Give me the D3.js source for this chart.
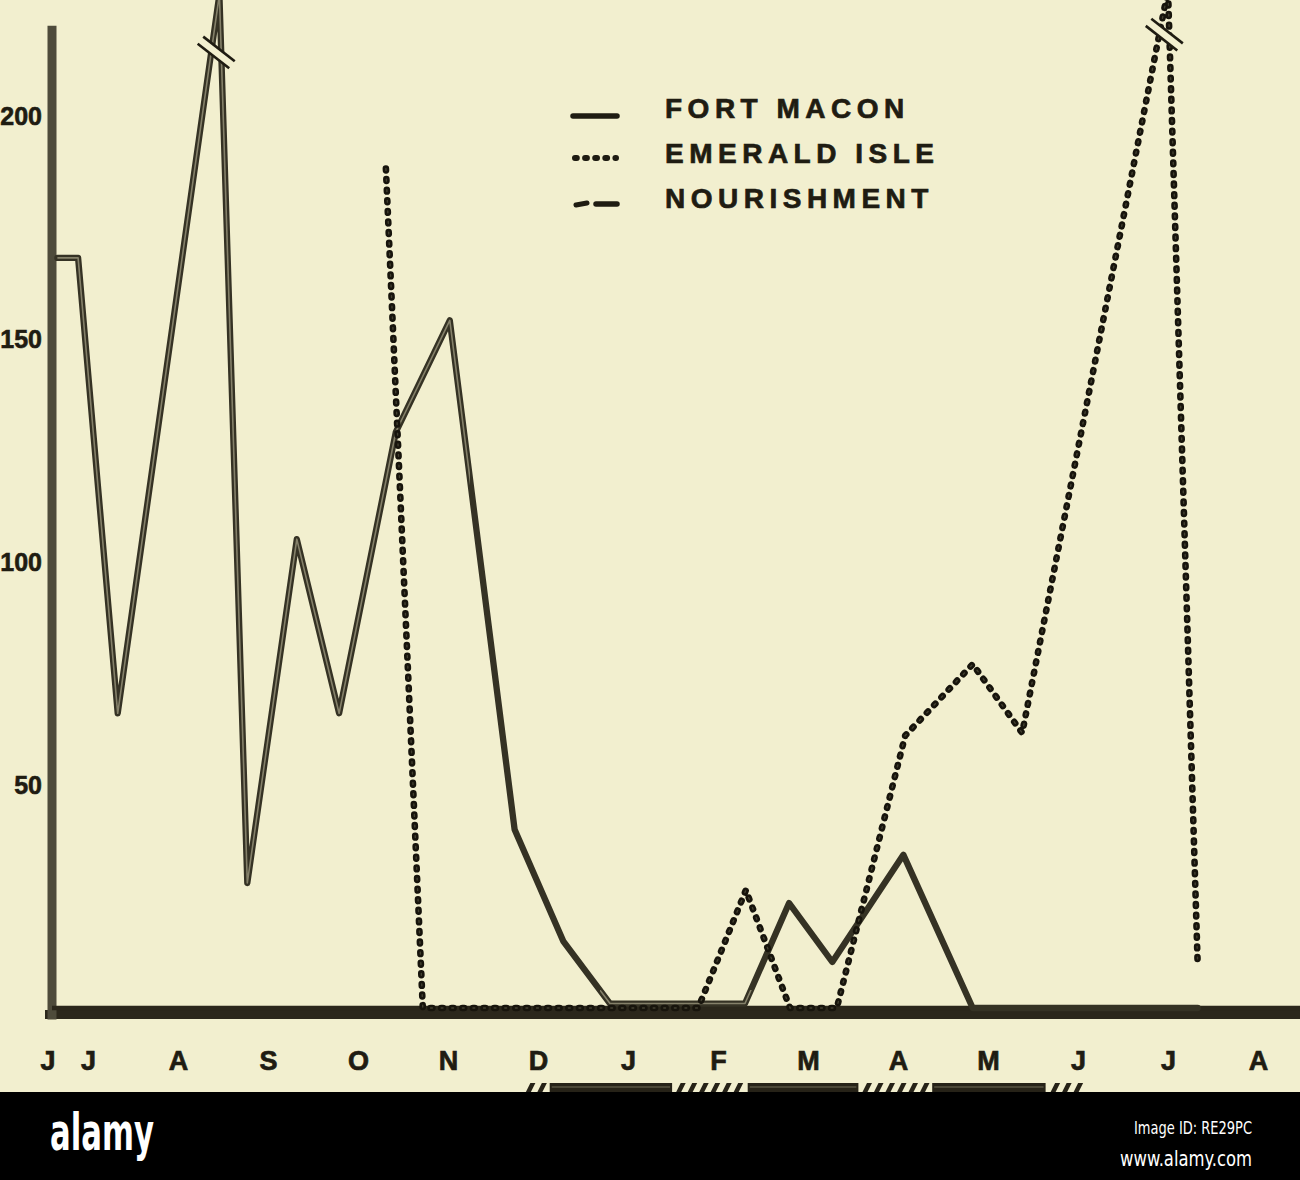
<!DOCTYPE html>
<html><head><meta charset="utf-8">
<script src="https://cdn.jsdelivr.net/npm/d3@7"></script>
<style>
html,body{margin:0;padding:0;background:#f1eecf;}
svg{display:block;}
</style></head><body>
<svg id="chart" width="1300" height="1180"></svg>
<script>
// ---------- DATA ----------
const monthLabels = ["J","J","A","S","O","N","D","J","F","M","A","M","J","J","A"];
const monthTicks  = [0.55,1,2,3,4,5,6,7,8,9,10,11,12,13,14];   // month index (July = 1)
const yTicks = [50,100,150,200];

const fortMaconMonth = [0.66,0.89,1.33,2.46,2.77,3.32,3.79,4.42,5.02,5.74,6.28,6.80,8.30,8.79,9.27,10.06,10.83,11.5,12.5,13.33];
const fortMaconValue = [168,168,66,227,28,105,66,129,154,40,15,1,1,23.5,10.3,34.3,0,0,0,0];

const emeraldMonth = [4.31,4.72,5.5,6.5,7.5,7.78,8.31,8.80,9.32,10.08,10.83,11.38,13.0,13.33];
const emeraldValue = [188,0,0,0,0,0,26.4,0,0,61,77,61.6,228,9.6];

const nourishMonth = [0.6,4.72,8.0,11.0,13.33,14.5];
const nourishValue = [0,0,0,0,0,0];

const periodStart = [5.86,6.13,7.53,8.33,9.60,10.38,11.69];
const periodEnd   = [6.13,7.49,8.29,9.56,10.33,11.64,12.08];
const periodType  = ["hatch","solid","hatch","solid","hatch","solid","hatch"];

const legendLabels = ["FORT MACON","EMERALD ISLE","NOURISHMENT"];

// ---------- SETUP ----------
const svg = d3.select("#chart");
const ink = "#1f1c12";
const bg = "#f2efcf";
const font = "'Liberation Sans', Arial, Helvetica, sans-serif";

svg.append("rect").attr("width",1300).attr("height",1180).attr("fill",bg);

const x = d3.scaleLinear().domain([1,14]).range([88,1258]);
const y = d3.scaleLinear().domain([0,200]).range([1008,115]);

const fm = fortMaconMonth.map((m,i)=>({m, v:fortMaconValue[i]}));
const ei = emeraldMonth.map((m,i)=>({m, v:emeraldValue[i]}));
const nr = nourishMonth.map((m,i)=>({m, v:nourishValue[i]}));

const line = d3.line().x(d=>x(d.m)).y(d=>y(d.v));

const defs = svg.append("defs");
const cp = defs.append("clipPath").attr("id","coreClip");
cp.append("rect").attr("x",0).attr("y",0).attr("width",470).attr("height",1180);
cp.append("rect").attr("x",600).attr("y",990).attr("width",160).attr("height",30);

// ---------- AXES ----------
svg.append("line").attr("x1",45).attr("x2",1300).attr("y1",1014.5).attr("y2",1014.5)
  .attr("stroke","#2b271b").attr("stroke-width",9);
svg.append("line").attr("x1",52).attr("x2",52).attr("y1",y(-2.6)).attr("y2",y(220))
  .attr("stroke","#4e4b3b").attr("stroke-width",9);

const yAxis = d3.axisLeft(y).tickValues(yTicks).tickSize(0).tickPadding(10).tickFormat(d3.format("d"));
const gy = svg.append("g").attr("transform","translate(52,0)").call(yAxis);
gy.select(".domain").remove();
gy.selectAll("text").attr("font-family",font).attr("font-weight","bold")
  .attr("font-size",25).attr("fill",ink).attr("dy","0.36em")
  .attr("stroke",ink).attr("stroke-width",0.6);

const xAxis = d3.axisBottom(x).tickValues(monthTicks).tickSize(0).tickFormat((d,i)=>monthLabels[i]);
const gx = svg.append("g").attr("transform","translate(0,1014)").call(xAxis);
gx.select(".domain").remove();
gx.selectAll("text").attr("y",56).attr("dy",null).attr("font-family",font).attr("font-weight","bold")
  .attr("font-size",27).attr("fill",ink).attr("stroke",ink).attr("stroke-width",0.7);

// ---------- SERIES ----------
// nourishment (lies on zero all season)
svg.append("path").attr("d",line(nr)).attr("fill","none")
  .attr("stroke","#2b271b").attr("stroke-width",4.5);

// Fort Macon
svg.append("path").attr("d",line(fm)).attr("fill","none")
  .attr("stroke","#353224").attr("stroke-width",6.3)
  .attr("stroke-linejoin","round").attr("stroke-linecap","round");
svg.append("path").attr("d",line(fm)).attr("fill","none").attr("clip-path","url(#coreClip)")
  .attr("stroke","#85816a").attr("stroke-width",1.6).attr("stroke-linejoin","round");

// Emerald Isle (dotted)
svg.append("path").attr("d",line(ei)).attr("fill","none")
  .attr("stroke","#17140c").attr("stroke-width",6.6).attr("stroke-linecap","round")
  .attr("stroke-linejoin","round").attr("stroke-dasharray","1.8 8.8");
svg.append("path").attr("d",line(ei)).attr("fill","none")
  .attr("stroke","#6e6b56").attr("stroke-width",1.4).attr("stroke-linecap","round")
  .attr("stroke-dasharray","1.8 8.8").attr("opacity",0.5);

// ---------- BREAK MARKS ----------
function breakPos(series, i, v){
  const a=series[i-1], p=series[i], b=series[i+1];
  const xa = x(a.m)+(x(p.m)-x(a.m))*(v-a.v)/(p.v-a.v);
  const xb = x(p.m)+(x(b.m)-x(p.m))*(v-p.v)/(b.v-p.v);
  return [(xa+xb)/2, y(v)];
}
function drawBreak(pos){
  const g = svg.append("g").attr("transform",`translate(${pos[0]},${pos[1]}) rotate(38)`);
  g.append("rect").attr("x",-19).attr("y",-4).attr("width",38).attr("height",8).attr("fill",bg);
  g.append("line").attr("x1",-20).attr("x2",20).attr("y1",-4.5).attr("y2",-4.5).attr("stroke",ink).attr("stroke-width",2.6);
  g.append("line").attr("x1",-20).attr("x2",20).attr("y1",4.5).attr("y2",4.5).attr("stroke",ink).attr("stroke-width",2.6);
}
drawBreak(breakPos(fm,3,214));
drawBreak(breakPos(ei,12,218));

// ---------- LEGEND ----------
const lg = svg.append("g");
const rowY = [118,163,208];
lg.selectAll("text").data(legendLabels).join("text")
  .attr("x",665).attr("y",(d,i)=>rowY[i]).text(d=>d)
  .attr("font-family",font).attr("font-weight","bold").attr("font-size",28)
  .attr("letter-spacing",5.5).attr("fill",ink)
  .attr("stroke",ink).attr("stroke-width",0.7);
lg.append("line").attr("x1",573).attr("x2",617).attr("y1",116).attr("y2",116)
  .attr("stroke",ink).attr("stroke-width",5.5).attr("stroke-linecap","round");
lg.append("line").attr("x1",575).attr("x2",616).attr("y1",158).attr("y2",158)
  .attr("stroke",ink).attr("stroke-width",6).attr("stroke-linecap","round").attr("stroke-dasharray","1.8 8.3");
lg.append("line").attr("x1",576).attr("x2",587).attr("y1",205).attr("y2",203)
  .attr("stroke",ink).attr("stroke-width",5).attr("stroke-linecap","round");
lg.append("line").attr("x1",596).attr("x2",617).attr("y1",204).attr("y2",204)
  .attr("stroke",ink).attr("stroke-width",5.5).attr("stroke-linecap","round");

// ---------- PERIOD BAR ----------
const pb = svg.append("g");
periodStart.forEach((s,i)=>{
  const x0=x(s), x1=x(periodEnd[i]);
  if(periodType[i]==="solid"){
    pb.append("rect").attr("x",x0).attr("y",1083).attr("width",x1-x0).attr("height",10).attr("fill","#262217");
    pb.append("line").attr("x1",x0+2).attr("x2",x1-2).attr("y1",1087).attr("y2",1087).attr("stroke","#6e6a56").attr("stroke-width",1);
  } else {
    for(let xs=x0; xs<x1-4; xs+=11.5){
      pb.append("path").attr("d",`M${xs+5},1083 L${xs+10},1083 L${xs+5},1093 L${xs},1093 Z`).attr("fill","#262217");
    }
  }
});

// ---------- FOOTER BAND ----------
svg.append("rect").attr("x",0).attr("y",1092).attr("width",1300).attr("height",88).attr("fill","#000");
svg.append("text").attr("x",50).attr("y",1150).text("alamy")
  .attr("font-family","'DejaVu Sans Condensed','DejaVu Sans',sans-serif").attr("font-weight","bold")
  .attr("font-size",52).attr("fill","#fff").attr("textLength",104).attr("lengthAdjust","spacingAndGlyphs");
svg.append("text").attr("x",1252).attr("y",1134).attr("text-anchor","end").text("Image ID: RE29PC")
  .attr("font-family","'DejaVu Sans Condensed','DejaVu Sans',sans-serif")
  .attr("font-size",18).attr("fill","#fff").attr("textLength",118).attr("lengthAdjust","spacingAndGlyphs");
svg.append("text").attr("x",1252).attr("y",1166).attr("text-anchor","end").text("www.alamy.com")
  .attr("font-family","'DejaVu Sans Condensed','DejaVu Sans',sans-serif")
  .attr("font-size",22).attr("fill","#fff").attr("textLength",132).attr("lengthAdjust","spacingAndGlyphs");
</script>
</body></html>
